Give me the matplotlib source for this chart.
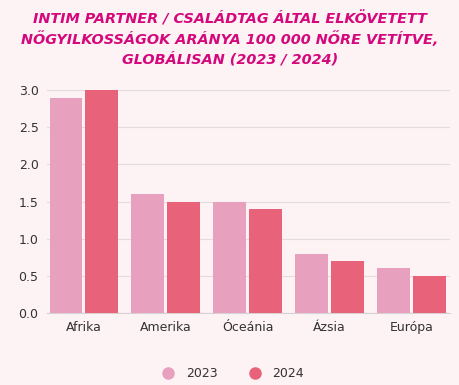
import matplotlib
matplotlib.use("Agg")
import matplotlib.pyplot as plt
from matplotlib.lines import Line2D
import numpy as np

regions = ["Afrika", "Amerika", "Óceánia", "Ázsia", "Európa"]
rate_2023 = [2.9, 1.6, 1.5, 0.8, 0.6]
rate_2024 = [3.0, 1.5, 1.4, 0.7, 0.5]
years = ["2023", "2024"]

bg = "#fdf3f4"
c23 = "#e8a0bf"
c24 = "#e8637a"

fig = plt.figure(figsize=(4.6, 3.85), dpi=100, facecolor=bg)
ax = fig.add_axes([0.102, 0.187, 0.876, 0.579], facecolor=bg)

x = np.arange(len(regions))
w = 0.40
ax.bar(x - w / 2 - 0.018, rate_2023, w, color=c23, zorder=3)
ax.bar(x + w / 2 + 0.018, rate_2024, w, color=c24, zorder=3)

ax.set_xlim(-0.45, 4.47)
ax.set_ylim(0, 3.0)
ax.set_yticks([0, 0.5, 1.0, 1.5, 2.0, 2.5, 3.0])
ax.set_yticklabels(["0.0", "0.5", "1.0", "1.5", "2.0", "2.5", "3.0"])
ax.set_xticks(x)
ax.set_xticklabels(regions)
ax.tick_params(length=0, labelsize=9, labelcolor="#333333", pad=6)
ax.grid(axis="y", color="#e3dcdd", linewidth=0.8, zorder=0)
for s in ["top", "right", "left"]:
    ax.spines[s].set_visible(False)
ax.spines["bottom"].set_color("#d8d0d2")

fig.text(0.5, 0.9,
         "INTIM PARTNER / CSALÁDTAG ÁLTAL ELKÖVETETT\n"
         "NŐGYILKOSSÁGOK ARÁNYA 100 000 NŐRE VETÍTVE,\n"
         "GLOBÁLISAN (2023 / 2024)",
         ha="center", va="center", fontsize=10.4, fontweight="bold",
         fontstyle="italic", color="#d4087c", family="DejaVu Sans",
         linespacing=1.4)

handles = [Line2D([], [], marker="o", linestyle="", markersize=8, color=c)
           for c in (c23, c24)]
fig.legend(handles, years, loc="center", bbox_to_anchor=(0.5, 0.03),
           ncol=2, frameon=False, fontsize=9, handletextpad=0.4,
           columnspacing=2.0, labelcolor="#333333")

fig.savefig("out.png", dpi=100, facecolor=bg)
